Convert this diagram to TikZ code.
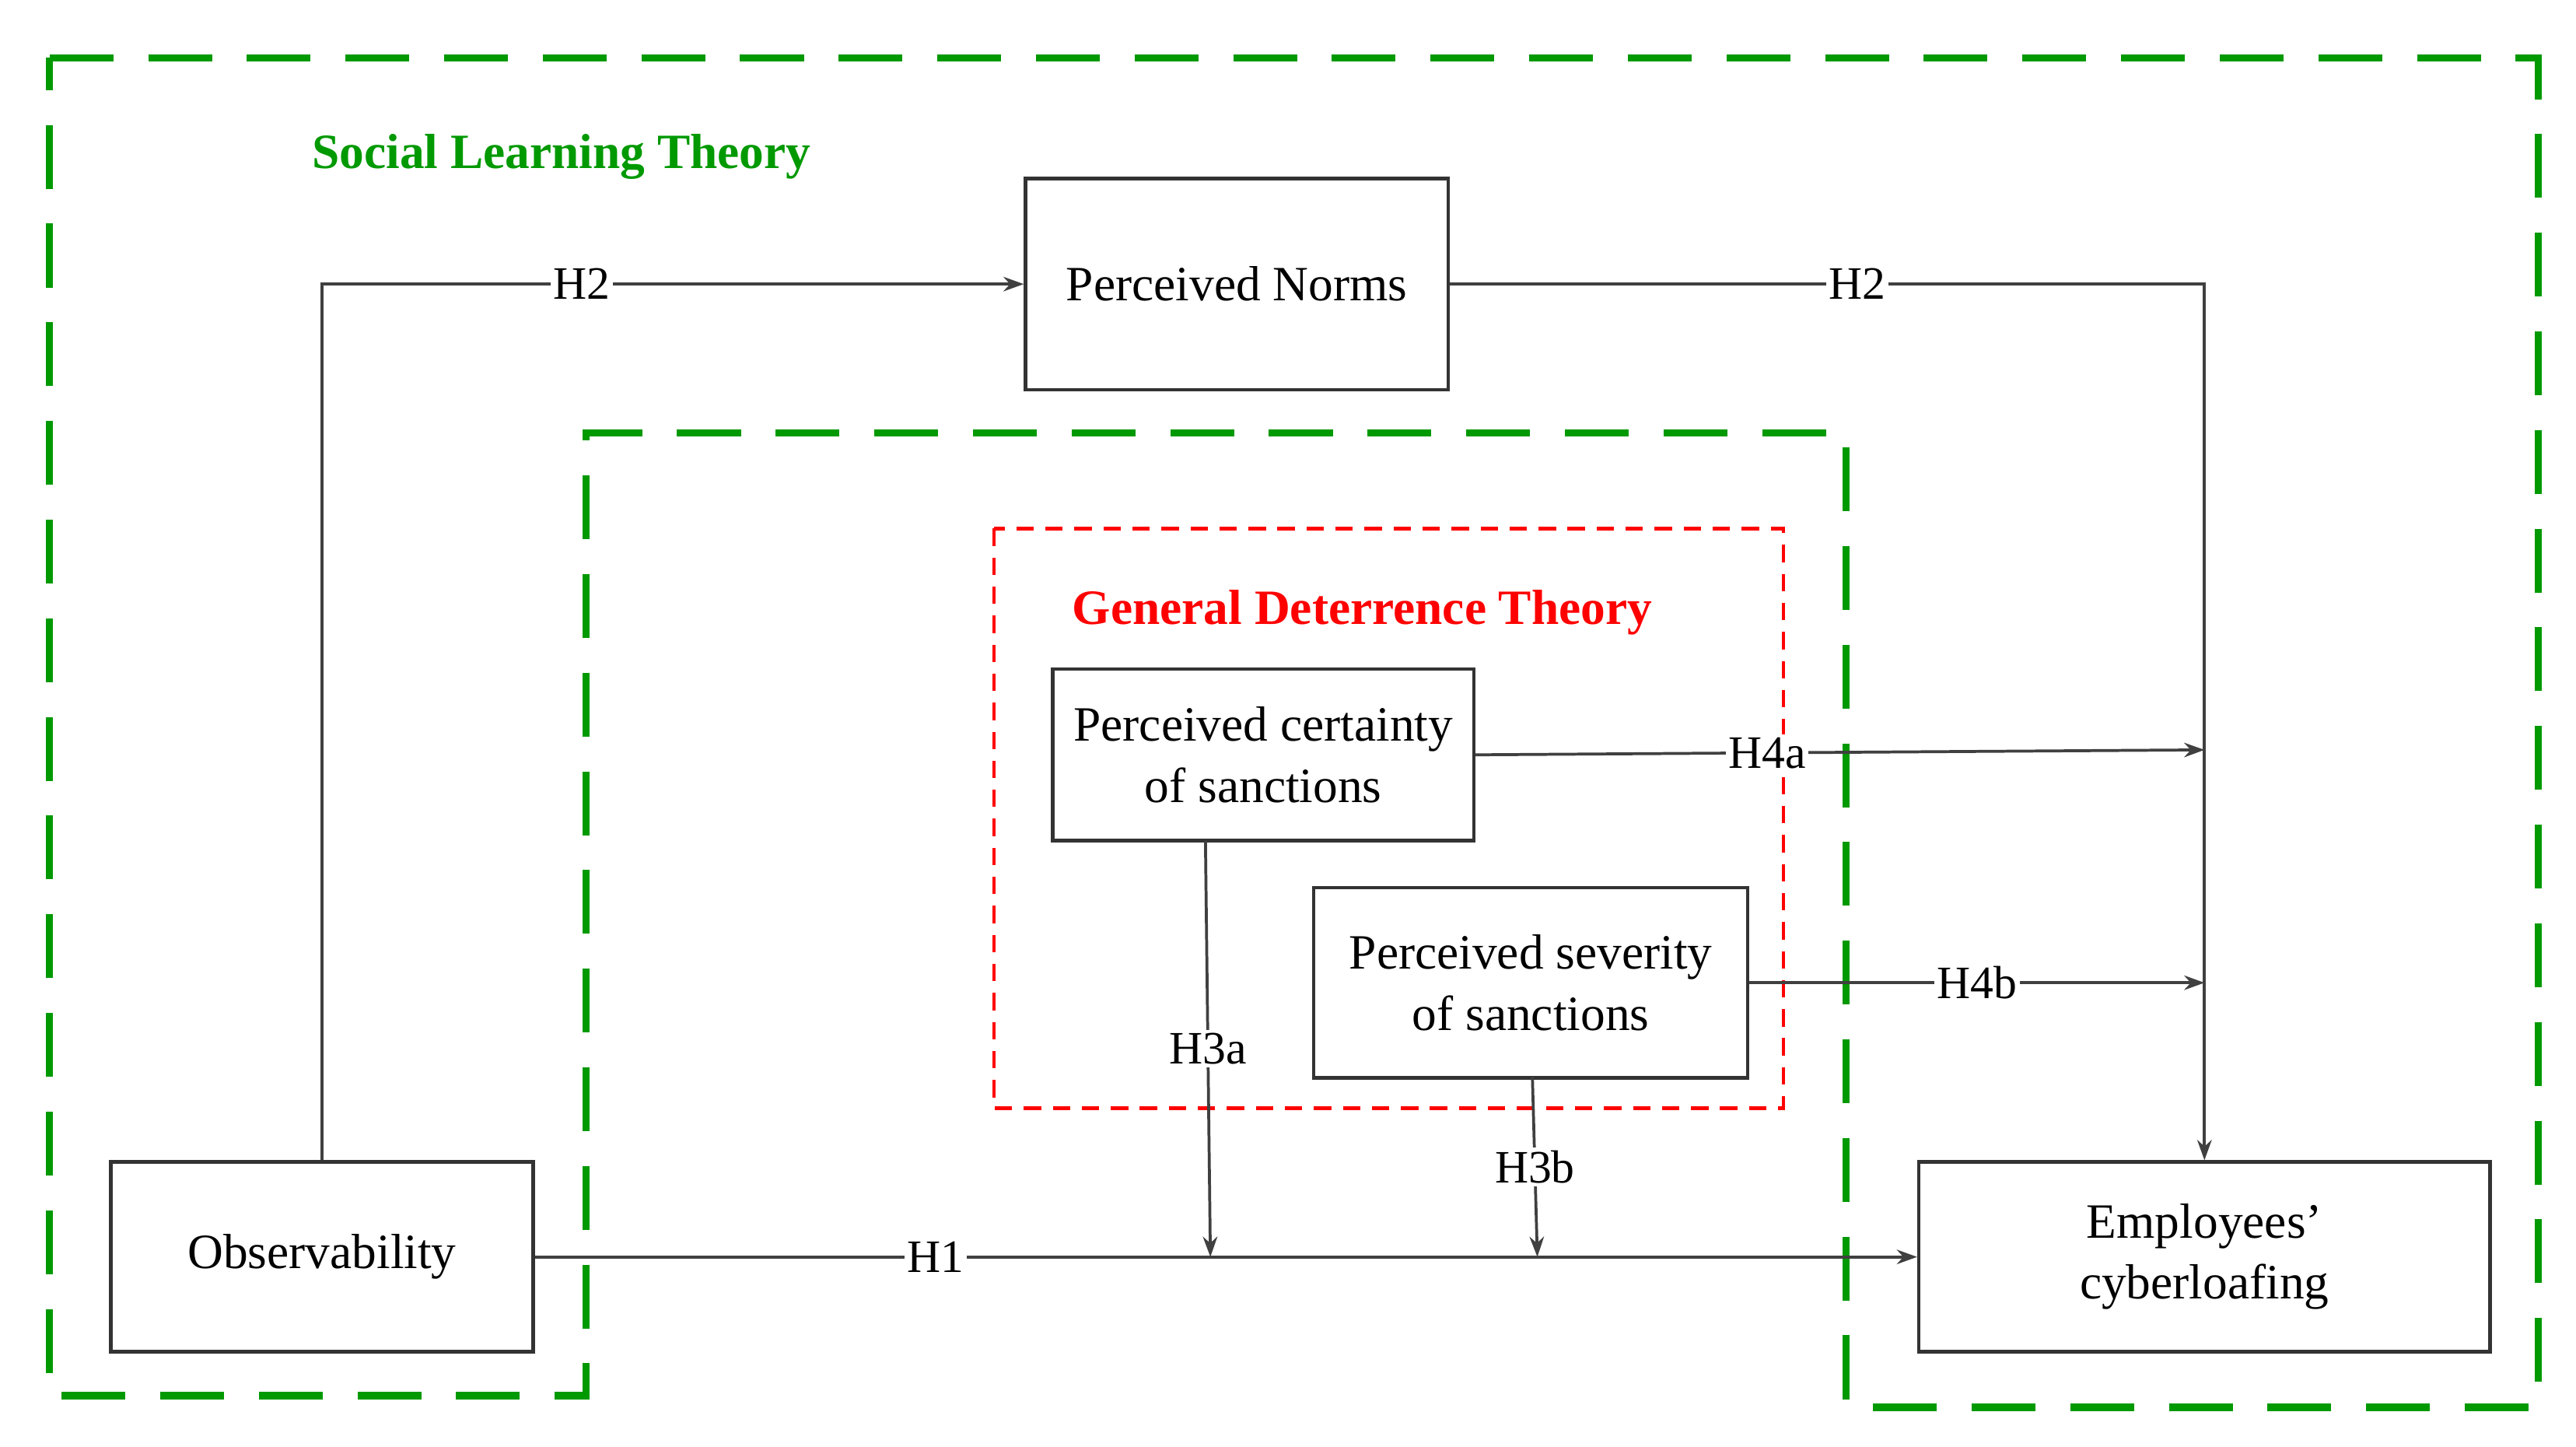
\documentclass[tikz,border=0pt]{standalone}
\usepackage{fontspec}
\setmainfont{Liberation Serif}
\usetikzlibrary{arrows.meta}
\begin{document}
\begin{tikzpicture}[x=0.02cm,y=-0.02cm,
    box/.style={draw=black!80,line width=1.2pt,align=center,inner sep=0pt,font=\fontsize{17}{21}\selectfont},
    link/.style={draw=black!75,line width=1pt,-{Stealth[length=7pt,width=5pt]}},
    hyp/.style={fill=white,inner sep=1pt,font=\fontsize{16}{18}\selectfont},
    theory/.style={font=\bfseries\fontsize{17}{20}\selectfont}]
    \useasboundingbox (0,0) rectangle (1560,876);
    % theory frames
    \draw[green!60!black,line width=2.5pt,dash pattern=on 22pt off 12pt]
        (30,35) -- (1537,35) -- (1537,852) -- (1118,852) -- (1118,262) -- (355,262) -- (355,845) -- (30,845) -- cycle;
    \draw[red,line width=1.2pt,dash pattern=on 6pt off 4pt] (602,320) rectangle (1080,671);
    \node[theory,text=green!60!black] at (340,95) {Social Learning Theory};
    \node[theory,text=red] at (825,371) {General Deterrence Theory};
    % constructs
    \node[box,minimum width=256\pgflinewidth] (norms) at (749,172) [minimum width=5.12cm,minimum height=2.56cm] {Perceived Norms};
    \node[box] (cert) at (765,457) [minimum width=5.1cm,minimum height=2.08cm] {Perceived certainty\\of sanctions};
    \node[box] (sev) at (927,595) [minimum width=5.26cm,minimum height=2.3cm] {Perceived severity\\of sanctions};
    \node[box] (obs) at (195,761) [minimum width=5.12cm,minimum height=2.3cm] {Observability};
    \node[box] (cyber) at (1335,761) [minimum width=6.92cm,minimum height=2.3cm] {Employees'\\cyberloafing};
    % junction points
    \coordinate (j4a) at (1335,454);
    \coordinate (j4b) at (1335,595);
    \coordinate (j3a) at (733,761);
    \coordinate (j3b) at (931,761);
    % paths
    \draw[link] (obs.north) -- (195,172) -- node[hyp,pos=0.37]{H2} (norms.west);
    \draw[link] (norms.east) -- node[hyp,pos=0.54]{H2} (1335,172) -- (cyber.north);
    \draw[link] (cert.east) -- node[hyp,pos=0.40]{H4a} (j4a);
    \draw[link] (sev.east) -- node[hyp,pos=0.50]{H4b} (j4b);
    \draw[link] (obs.east) -- node[hyp,pos=0.29]{H1} (cyber.west);
    \draw[link] (730,509) -- node[hyp,pos=0.5]{H3a} (j3a);
    \draw[link] (928,652) -- node[hyp,pos=0.5]{H3b} (j3b);
\end{tikzpicture}
\end{document}
